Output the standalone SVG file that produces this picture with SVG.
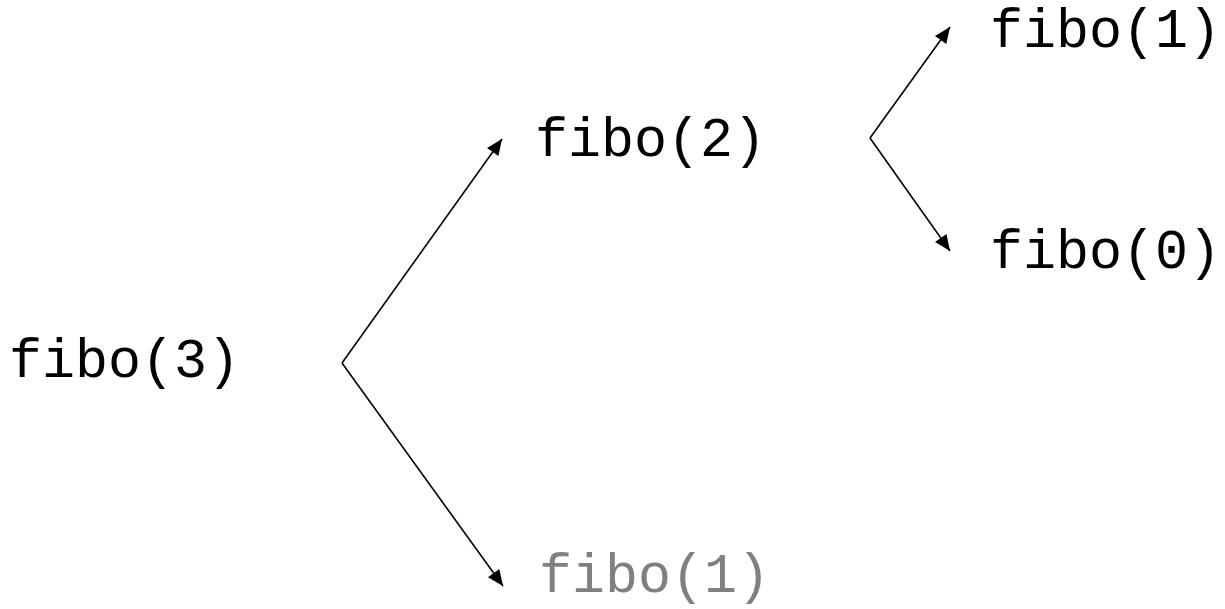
<svg xmlns="http://www.w3.org/2000/svg" width="1225" height="609" viewBox="0 0 1225 609">
  <style>
    .call { font-family: "Liberation Mono", "Courier New", monospace; font-size: 55px; fill: #000; }
    .done { fill: #808080; }
    .edge { stroke: #000; stroke-width: 1.6; fill: none; marker-end: url(#head); }
  </style>
  <defs>
    <marker id="head" markerUnits="userSpaceOnUse" markerWidth="18" markerHeight="16" refX="16" refY="7" orient="auto" overflow="visible">
      <path d="M0,0 L16,7 L0,14 Z" fill="#000"/>
    </marker>
  </defs>
  <rect width="1225" height="609" fill="#fff"/>

  <!-- call tree edges -->
  <g id="connectors">
    <path class="edge" d="M342,363 L502,139"/>
    <path class="edge" d="M342,363 L503,586"/>
    <path class="edge" d="M870,138 L950,27"/>
    <path class="edge" d="M870,138 L950,251"/>
  </g>

  <g id="fibo3"><text class="call" x="9" y="377">fibo(3)</text></g>
  <g id="fibo2"><text class="call" x="535" y="156">fibo(2)</text></g>
  <g id="fibo1-top"><text class="call" x="990" y="47">fibo(1)</text></g>
  <g id="fibo0"><text class="call" x="990" y="268">fibo(0)</text></g>
  <g id="fibo1-bottom"><text class="call done" x="539" y="592">fibo(1)</text></g>
</svg>
